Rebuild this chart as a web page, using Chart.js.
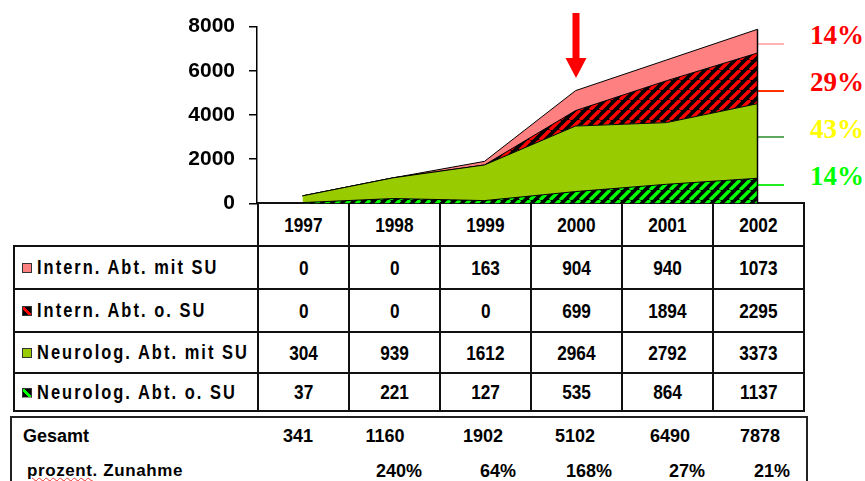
<!DOCTYPE html>
<html lang="de">
<head>
<meta charset="UTF-8">
<title>Stroke-Unit Patienten 1997-2002</title>
<script src="https://cdn.jsdelivr.net/npm/chart.js@4"></script>
<style>
  body { margin: 0; background: #fff; width: 865px; height: 481px; overflow: hidden; position: relative;
         font-family: "Liberation Sans", Arial, sans-serif; }
  #chartBox { position: absolute; left: 0; top: 0; width: 865px; height: 230px; z-index: 2; }
  table.data { position: absolute; left: 13px; top: 202px; width: 790px; border-collapse: collapse; table-layout: fixed; }
  table.data td { border: 2px solid #111; text-align: center; font-weight: bold; font-size: 21px; padding: 0; overflow: hidden; }
  table.data td span.n { display: inline-block; transform: scaleX(0.82); }
  table.data td.blank { border-top: none; border-left: none; }
  table.data td.lbl { text-align: left; padding-left: 7px; font-size: 20px; white-space: nowrap; overflow: visible; }
  table.data td.lbl span.t { display: inline-block; width: 140px; letter-spacing: 2.5px; transform: scaleX(0.82); transform-origin: left center; }
  .sw { display: inline-block; width: 8px; height: 8px; border: 1px solid #333; margin-right: 5px; vertical-align: 1px; }
  .share { position: absolute; left: 810px; font-family: "Liberation Serif", "Times New Roman", serif;
           font-weight: bold; font-size: 27px; line-height: 28px; }
  .tick { position: absolute; left: 756px; width: 28px; height: 2px; }
  #sumBox { position: absolute; left: 10px; top: 416px; width: 794px; height: 80px;
            border: 2px solid #222; }
  .sum { position: absolute; font-weight: bold; font-size: 18px; transform: translateX(-50%); white-space: nowrap; }
</style>
</head>
<body>
<div id="chartBox"><canvas id="chart" width="865" height="230"></canvas></div>
<table class="data" id="dataTable"></table>

<div class="tick" style="top:43px;background:#ffb3b3"></div>
<div class="tick" style="top:90px;background:#ff3300"></div>
<div class="tick" style="top:136px;background:#5fa85f"></div>
<div class="tick" style="top:184px;background:#22ee22"></div>
<div class="share" style="top:21px;color:#ff0000">14%</div>
<div class="share" style="top:68px;color:#ff0000">29%</div>
<div class="share" style="top:115px;color:#ffff00">43%</div>
<div class="share" style="top:162px;color:#00ff00">14%</div>

<div id="sumBox"></div>

<script>
// data
const years = ['1997', '1998', '1999', '2000', '2001', '2002'];
const internMitSU = [0, 0, 163, 904, 940, 1073];
const internOhneSU = [0, 0, 0, 699, 1894, 2295];
const neuroMitSU = [304, 939, 1612, 2964, 2792, 3373];
const neuroOhneSU = [37, 221, 127, 535, 864, 1137];
const gesamt = [341, 1160, 1902, 5102, 6490, 7878];
const zunahme = ['', '240%', '64%', '168%', '27%', '21%'];

const seriesNames = ['Intern. Abt. mit SU', 'Intern. Abt. o. SU', 'Neurolog. Abt. mit SU', 'Neurolog. Abt. o. SU'];

// striped fill like the old PowerPoint pattern
function hatch(color) {
    const c = document.createElement('canvas');
    c.width = 10; c.height = 10;
    const g = c.getContext('2d');
    g.fillStyle = '#000';
    g.fillRect(0, 0, 10, 10);
    g.strokeStyle = color;
    g.lineWidth = 3.5;
    g.beginPath();
    for (const k of [-10, 0, 10]) {
        g.moveTo(k, 10);
        g.lineTo(k + 10, 0);
    }
    g.stroke();
    return g.createPattern(c, 'repeat');
}

const pink = '#ff8080';
const limeGreen = '#99cc00';
const redStripes = hatch('#ff0000');
const greenStripes = hatch('#00ff00');

// table below the chart
const swatchCss = [
    'background:' + pink,
    'background:linear-gradient(to top right,#000 35%,#f00 35%,#f00 62%,#000 62%)',
    'background:' + limeGreen,
    'background:linear-gradient(to top right,#000 35%,#0f0 35%,#0f0 62%,#000 62%);border-bottom-color:#999'
];
const tableRows = [internMitSU, internOhneSU, neuroMitSU, neuroOhneSU];
const rowHeights = [43, 43, 43, 41, 38];

const table = document.getElementById('dataTable');
let html = '<colgroup><col style="width:244px">' + years.map(() => '<col style="width:91px">').join('') + '</colgroup>';
html += '<tr style="height:' + rowHeights[0] + 'px"><td class="blank"></td>' +
    years.map(y => '<td><span class="n">' + y + '</span></td>').join('') + '</tr>';
tableRows.forEach((row, i) => {
    html += '<tr style="height:' + rowHeights[i + 1] + 'px"><td class="lbl"><span class="sw" style="' + swatchCss[i] + '"></span>' +
        '<span class="t">' + seriesNames[i] + '</span></td>' +
        row.map(v => '<td><span class="n">' + v + '</span></td>').join('') + '</tr>';
});
table.innerHTML = html;

// totals box
const sumBox = document.getElementById('sumBox');
const sumX = [286, 373, 471, 563, 658, 748];
const pctX = [0, 387, 486, 577, 675, 760];
let sumHtml = '<div class="sum" style="left:11px;top:8px;transform:none">Gesamt</div>' +
    '<div class="sum" style="left:15px;top:43px;transform:none;font-size:17px;letter-spacing:0.6px">' +
    '<span style="text-decoration:underline wavy #e33;text-decoration-thickness:1px">prozent</span>. Zunahme</div>';
gesamt.forEach((v, i) => {
    sumHtml += '<div class="sum" style="left:' + sumX[i] + 'px;top:8px">' + v + '</div>';
    if (zunahme[i]) sumHtml += '<div class="sum" style="left:' + pctX[i] + 'px;top:43px">' + zunahme[i] + '</div>';
});
sumBox.innerHTML = sumHtml;

// closing edge on the right and the red arrow at 2000
const extras = {
    id: 'extras',
    afterDatasetsDraw(chart) {
        const ctx = chart.ctx;
        const x = chart.scales.x;
        const y = chart.scales.y;
        const last = years.length - 1;
        const top = chart.getDatasetMeta(3).data[last];
        ctx.save();
        ctx.strokeStyle = '#000';
        ctx.lineWidth = 1.5;
        ctx.beginPath();
        ctx.moveTo(top.x, top.y);
        ctx.lineTo(top.x, y.getPixelForValue(0));
        ctx.stroke();

        const ax = x.getPixelForValue(3);
        ctx.fillStyle = '#ff0000';
        ctx.fillRect(ax - 3, 13, 7, 46);
        ctx.beginPath();
        ctx.moveTo(ax - 10, 58);
        ctx.lineTo(ax + 11, 58);
        ctx.lineTo(ax + 0.5, 78);
        ctx.closePath();
        ctx.fill();
        ctx.restore();
    }
};

new Chart('chart', {
    type: 'line',
    data: {
        labels: years,
        datasets: [
            { label: seriesNames[3], data: neuroOhneSU, backgroundColor: greenStripes, fill: 'origin' },
            { label: seriesNames[2], data: neuroMitSU, backgroundColor: limeGreen, fill: '-1' },
            { label: seriesNames[1], data: internOhneSU, backgroundColor: redStripes, fill: '-1' },
            { label: seriesNames[0], data: internMitSU, backgroundColor: pink, fill: '-1' }
        ].map(d => Object.assign(d, { borderColor: '#000', borderWidth: 1, pointRadius: 0, tension: 0 }))
    },
    options: {
        responsive: false,
        animation: false,
        layout: { padding: { left: 0, right: 62, top: 25, bottom: 0 } },
        plugins: { legend: { display: false }, tooltip: { enabled: false } },
        scales: {
            x: { display: false, offset: true, stacked: true },
            y: {
                stacked: true,
                min: 0,
                max: 8000,
                ticks: {
                    stepSize: 2000,
                    color: '#000',
                    padding: 14,
                    callback: v => String(v),
                    font: { family: '"Liberation Sans", Arial, sans-serif', size: 21, weight: 'bold' }
                },
                grid: { drawOnChartArea: false, drawTicks: true, tickLength: 8, color: '#000', lineWidth: 1.5 },
                border: { display: true, color: '#000', width: 1.5 },
                afterFit(scale) { scale.width = 257; }
            }
        }
    },
    plugins: [extras]
});
</script>
</body>
</html>
